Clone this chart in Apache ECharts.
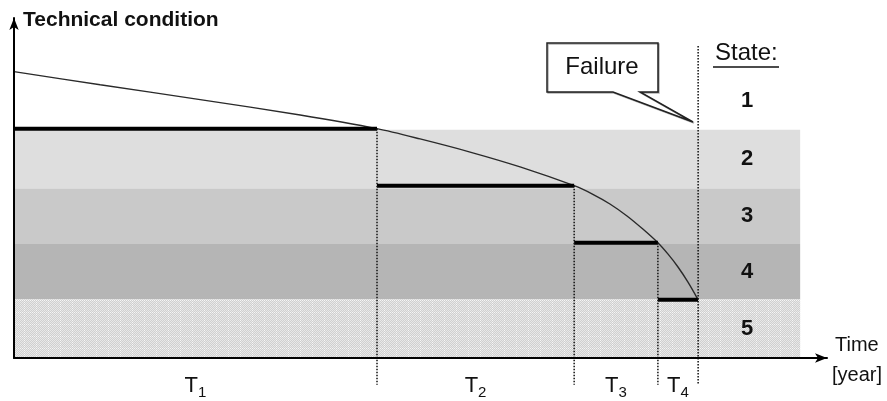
<!DOCTYPE html>
<html><head><meta charset="utf-8">
<script src="https://cdn.jsdelivr.net/npm/echarts@6/dist/echarts.min.js"></script>
<style>html,body{margin:0;padding:0;background:#fff}#c{width:887px;height:401px}</style>
</head><body><div id="c"></div><script>
// ---- data ----
const stateNames = ['1', '2', '3', '4', '5'];
// state boundaries (technical-condition units), from the top of state 1 down to the time axis
const stateTops = [5.02, 4.0, 2.97, 2.0, 1.03, 0];
const bandColors = ['#dedede', '#c9c9c9', '#b5b5b5', 'pattern'];
// periods T1..T4 : end times [year] and the condition level held in each period
const periodNames = ['1', '2', '3', '4'];
const periodEnds = [8.93, 13.78, 15.84, 16.83];
const periodLevels = [4.02, 3.02, 2.02, 1.02];
const bandEnd = 19.34;
// degradation curve
const curveX = [0, 2.12, 4.58, 7.04, 8.93, 9.99, 11.22, 12.45, 13.78, 14.24, 14.66, 15.08, 15.47, 15.84, 16.09, 16.33, 16.58, 16.83];
const curveY = [5.02, 4.79, 4.53, 4.26, 4.02, 3.84, 3.61, 3.35, 3.02, 2.87, 2.70, 2.49, 2.26, 2.02, 1.82, 1.60, 1.33, 1.02];
const failureTop = 5.47;
const dropBottom = -0.47;

function makePattern() {
  const c = document.createElement('canvas'); c.width = 12; c.height = 12;
  const g = c.getContext('2d');
  for (let y = 0; y < 12; y++) for (let x = 0; x < 12; x++) {
    g.fillStyle = ((x + y) % 2) ? '#d0d0d0' : '#e8e8e8'; g.fillRect(x, y, 1, 1);
  }
  g.fillStyle = '#f6f6f6';
  for (let i = 0; i < 12; i += 2) { g.fillRect(0, i, 1, 1); g.fillRect(i, 0, 1, 1); }
  return c;
}
const pattern = { image: makePattern(), repeat: 'repeat' };

const chart = echarts.init(document.getElementById('c'), null, { renderer: 'canvas' });

const bandAreas = [];
for (let i = 1; i < stateTops.length - 1; i++) {
  const col = bandColors[i - 1] === 'pattern' ? pattern : bandColors[i - 1];
  bandAreas.push([{ xAxis: 0, yAxis: stateTops[i + 1], itemStyle: { color: col } }, { xAxis: bandEnd, yAxis: stateTops[i] }]);
}

const series = [];
series.push({ type: 'line', data: [], silent: true, markArea: { silent: true, data: bandAreas, itemStyle: { opacity: 1 } }, z: 1 });
series.push({
  type: 'line', data: curveX.map((x, i) => [x, curveY[i]]), smooth: 0.3, showSymbol: false, symbol: 'none',
  lineStyle: { color: '#2a2a2a', width: 1.4 }, z: 4, silent: true
});
let start = 0;
periodEnds.forEach((e, i) => {
  series.push({ type: 'line', data: [[start, periodLevels[i]], [e, periodLevels[i]]], symbol: 'none', lineStyle: { color: '#000', width: 4 }, z: 5, silent: true });
  const top = i === periodEnds.length - 1 ? failureTop : periodLevels[i];
  series.push({ type: 'line', data: [[e, top], [e, dropBottom]], symbol: 'none', clip: false, lineStyle: { color: '#111', width: 1.5, type: [1.5, 1.5] }, z: 6, silent: true });
  start = e;
});

const axisCommon = {
  type: 'value', min: 0, z: 10,
  axisLine: { show: true, symbol: ['none', 'arrow'], symbolSize: [7, 12], symbolOffset: [0, 0], lineStyle: { color: '#000', width: 2 } },
  axisTick: { show: false }, axisLabel: { show: false }, splitLine: { show: false }
};

chart.setOption({
  animation: false,
  grid: { left: 14, right: 60, top: 18, bottom: 43 },
  xAxis: Object.assign({}, axisCommon, { max: 20 }),
  yAxis: Object.assign({}, axisCommon, { max: 5.96 }),
  series: series
});

const font = '"Liberation Sans", Arial, sans-serif';
const g = [];
function txt(x, y, s, size, opts) {
  g.push(Object.assign({ type: 'text', x: x, y: y, z: 20, style: Object.assign({ text: s, fontFamily: font, fontSize: size, fill: '#111', align: 'left', verticalAlign: 'middle' }, opts || {}) }));
}
txt(23, 20, 'Technical condition', 21, { fontWeight: 'bold' });
txt(715, 53, 'State:', 24);
g.push({ type: 'line', z: 20, shape: { x1: 713, y1: 67, x2: 779, y2: 67 }, style: { stroke: '#111', lineWidth: 1.5 } });
const xNum = chart.convertToPixel({ gridIndex: 0 }, [bandEnd, 0])[0] - 53;
for (let i = 0; i < stateNames.length; i++) {
  const yc = chart.convertToPixel({ gridIndex: 0 }, [0, (stateTops[i] + stateTops[i + 1]) / 2])[1];
  txt(xNum, yc, stateNames[i], 22, { fontWeight: 'bold', align: 'center' });
}
// period labels
let ps = 0;
periodEnds.forEach((e, i) => {
  const mid = chart.convertToPixel({ gridIndex: 0 }, [(ps + e) / 2, 0])[0];
  txt(mid + 2.5, 385.5, 'T', 22, { align: 'right' });
  txt(mid + 2.5, 392.5, periodNames[i], 15, { align: 'left' });
  ps = e;
});
txt(835, 345, 'Time', 20);
txt(832, 375, '[year]', 20);
// failure callout
g.push({
  type: 'polygon', z: 19,
  shape: { points: [[547, 43], [658, 43], [658, 92], [640, 92], [693, 122], [613, 92], [547, 92]] },
  style: { fill: '#fff', stroke: '#222', lineWidth: 1.5, shadowColor: 'rgba(0,0,0,0.3)', shadowOffsetX: 1, shadowOffsetY: 1, shadowBlur: 0 }
});
txt(602, 67, 'Failure', 24, { align: 'center' });
chart.setOption({ graphic: g });
</script></body></html>
